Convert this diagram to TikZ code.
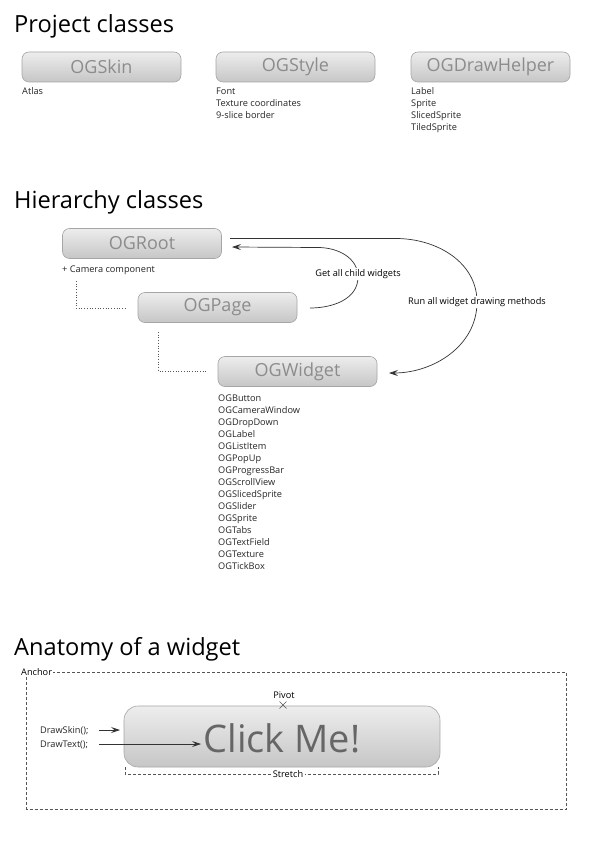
\documentclass[tikz,border=0pt]{standalone}
\usepackage{fontspec}
\setmainfont{Open Sans}
\usetikzlibrary{arrows.meta,calc}
\definecolor{boxborder}{HTML}{A6A6A6}
\definecolor{boxtop}{HTML}{EDEDED}
\definecolor{boxbot}{HTML}{C6C6C6}
\definecolor{ogtext}{HTML}{8C8C8C}
\definecolor{clicktext}{HTML}{666666}
\definecolor{linec}{HTML}{333333}
\definecolor{dashc}{HTML}{555555}
\tikzset{
  ogbox/.style={draw=boxborder, line width=0.6pt, rounded corners=7pt, top color=boxtop, bottom color=boxbot,
    minimum width=159pt, minimum height=30pt, inner sep=0pt, text=ogtext, font=\fontsize{18}{18}\selectfont},
  title/.style={anchor=base west, inner sep=0pt, font=\fontsize{23.6}{24}\selectfont},
  small/.style={anchor=base west, inner sep=0pt, font=\fontsize{9.2}{11}\selectfont, text=black!85},
  lbl/.style={inner sep=1.5pt, fill=white, font=\fontsize{9.2}{11}\selectfont},
  curve/.style={draw=linec, line width=0.7pt},
  tip/.style={-{Stealth[length=9pt,width=6pt,inset=3.5pt]}},
  dots/.style={draw=dashc, line width=0.7pt, dotted},
  dashline/.style={draw=dashc, line width=0.6pt, dash pattern=on 3pt off 2pt},
}
\begin{document}
\begin{tikzpicture}[x=1pt,y=-1pt]
\useasboundingbox[fill=white] (0,0) rectangle (595,842);

% Project classes
\node[title] (t1) at (14,33) {Project classes};
\node[ogbox] (skin) at (101.5,67) {OGSkin};
\node[ogbox] (style) at (295.5,67) {OGStyle};
\node[ogbox] (draw) at (490.5,67) {OGDrawHelper};
\node[small] (atlas) at (22,95) {Atlas};
\foreach \t [count=\i] in {Font,Texture coordinates,9-slice border}
  \node[small] (st\i) at (216,83+12*\i) {\t};
\foreach \t [count=\i] in {Label,Sprite,SlicedSprite,TiledSprite}
  \node[small] (dh\i) at (411,83+12*\i) {\t};

% Hierarchy classes
\node[title] (t2) at (14,208) {Hierarchy classes};
\node[ogbox] (root) at (142,243.5) {OGRoot};
\node[ogbox] (page) at (217.5,307.5) {OGPage};
\node[ogbox] (widget) at (297.5,371.5) {OGWidget};
\node[small] (cam) at (62,272) {+ Camera component};
\foreach \t [count=\i] in {OGButton,OGCameraWindow,OGDropDown,OGLabel,OGListItem,OGPopUp,OGProgressBar,OGScrollView,OGSlicedSprite,OGSlider,OGSprite,OGTabs,OGTextField,OGTexture,OGTickBox}
  \node[small] (w\i) at (218,389+12*\i) {\t};

\coordinate (d1a) at (76,281);
\coordinate (d1b) at (126,308);
\draw[dots] (d1a) |- (d1b);
\coordinate (d2a) at (158,332);
\coordinate (d2b) at (207,371);
\draw[dots] (d2a) |- (d2b);

% curves
\coordinate (pa) at (310,308);
\coordinate (ra) at (232,247);
\coordinate (rb) at (230,238.5);
\coordinate (wa) at (389,373);
\draw[curve,tip] (pa) to[out=0,in=270] (358,277) to[out=90,in=0] (318,247.5) -- (ra);
\draw[curve,tip] (rb) -- (396,238.5) to[out=0,in=90] (477,302) to[out=270,in=0] (wa);
\node[lbl] (gl) at (358,274) {Get all child widgets};
\node[lbl] (rl) at (477,302) {Run all widget drawing methods};

% Anatomy
\node[title] (t3) at (14,655) {Anatomy of a widget};
\draw[dashline] (26.5,672) rectangle (566,809);
\node[lbl, anchor=west, inner sep=1pt] (anchor) at (20,672) {Anchor};
\node[draw=boxborder, line width=0.6pt, rounded corners=14pt, top color=boxtop, bottom color=boxbot,
  minimum width=316pt, minimum height=61pt, inner sep=0pt] (click) at (282,736.5) {};
\node[text=clicktext, inner sep=0pt, font=\fontsize{38}{38}\selectfont] (clicktxt) at (282,738) {Click Me!};
\node[lbl, fill=none] (pivot) at (284,695) {Pivot};
\coordinate (pv) at (283,705);
\draw[dashc, line width=0.5pt] ($(pv)+(-3.5,-3.5)$) -- ($(pv)+(3.5,3.5)$) ($(pv)+(-3.5,3.5)$) -- ($(pv)+(3.5,-3.5)$);
\draw[dashline] (125,767) -- (125,774) -- (438,774) -- (438,767);
\node[lbl, inner sep=2pt] (stretch) at (288,774) {Stretch};
\node[small] (ds) at (40,733) {DrawSkin();};
\node[small] (dt) at (40,747) {DrawText();};
\coordinate (s1) at (99,730);
\coordinate (s2) at (120,730);
\coordinate (t1a) at (99,744);
\coordinate (t2a) at (201,744);
\draw[curve,tip] (s1) -- (s2);
\draw[curve,tip] (t1a) -- (t2a);
\end{tikzpicture}
\end{document}
